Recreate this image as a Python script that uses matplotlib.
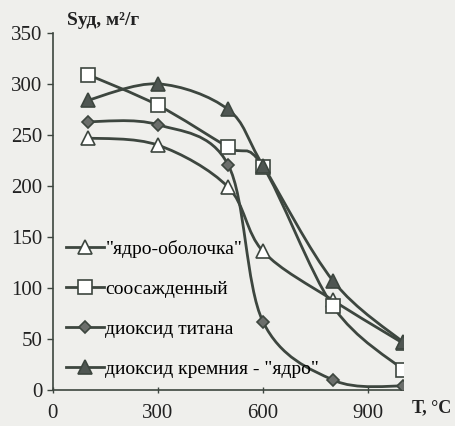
import numpy as np
import matplotlib

matplotlib.use("Agg")
import matplotlib.pyplot as plt
from matplotlib.path import Path
from matplotlib.patches import PathPatch

plt.rcParams["font.family"] = ["Liberation Serif", "DejaVu Serif"]

# ----------------------------------------------------------------------
# data
# ----------------------------------------------------------------------
temps = [100, 300, 500, 600, 800, 1000]
core_shell = [247, 240, 199, 136, 88, 46]      # "ядро-оболочка"
coprecip = [309, 279, 238, 219, 82, 20]        # соосажденный
titania = [263, 260, 221, 67, 10, 4]           # диоксид титана
silica_core = [284, 300, 275, 220, 107, 47]    # диоксид кремния - "ядро"

labels = ['"ядро-оболочка"', "соосажденный", "диоксид титана",
          'диоксид кремния - "ядро"']

y_ticks = [0, 50, 100, 150, 200, 250, 300, 350]
x_ticks = [0, 300, 600, 900]

LINE = "#3d463f"
BG = "#efefec"


def smooth_path(xs, ys):
    """Catmull-Rom style cubic Bezier path through the points."""
    p = np.column_stack([xs, ys]).astype(float)
    n = len(p)
    verts = [p[0]]
    codes = [Path.MOVETO]
    for i in range(n - 1):
        p0 = p[i - 1] if i > 0 else p[i]
        p1, p2 = p[i], p[i + 1]
        p3 = p[i + 2] if i + 2 < n else p[i + 1]
        verts += [p1 + (p2 - p0) / 6.0, p2 - (p3 - p1) / 6.0, p2]
        codes += [Path.CURVE4] * 3
    return Path(verts, codes)


fig = plt.figure(figsize=(4.56, 4.26), dpi=100, facecolor=BG)
ax = fig.add_axes([0.116, 0.084, 0.768, 0.839], facecolor=BG)

series = [
    (core_shell, dict(marker="^", mfc="white", ms=10)),
    (coprecip, dict(marker="s", mfc="white", ms=10)),
    (titania, dict(marker="D", mfc="#6b6e6b", ms=6)),
    (silica_core, dict(marker="^", mfc="#4f5652", ms=10)),
]

for (vals, style), label in zip(series, labels):
    ax.add_patch(PathPatch(smooth_path(temps, vals), fill=False,
                           ec=LINE, lw=2.0, zorder=2))
    ax.plot(temps, vals, ls="none", mec=LINE, mew=1.2, zorder=3, **style)
    ax.plot([], [], color=LINE, lw=2.0, mec=LINE, mew=1.2,
            label=label, **style)

ax.set_xlim(0, 1000)
ax.set_ylim(0, 350)
ax.set_xticks(x_ticks)
ax.set_yticks(y_ticks)
ax.tick_params(axis="both", labelsize=15, color=LINE, length=4,
               width=1, labelcolor="#222222")
ax.tick_params(axis="x", direction="inout", pad=8)
for side in ("top", "right"):
    ax.spines[side].set_visible(False)
for side in ("left", "bottom"):
    ax.spines[side].set_color(LINE)
    ax.spines[side].set_linewidth(1.2)

ax.text(0.04, 1.01, "Sуд, м²/г", transform=ax.transAxes, fontsize=14,
        fontweight="bold", va="bottom", ha="left", color="#222222")
fig.text(0.99, 0.043, "Т, °С", fontsize=13, fontweight="bold",
         ha="right", va="center", color="#222222")

ax.legend(loc="lower left", bbox_to_anchor=(0.0, 0.0), frameon=False,
          fontsize=14, handlelength=2.0, handletextpad=0.05,
          labelspacing=1.15, borderaxespad=0.25)

fig.savefig("out.png", dpi=100, facecolor=BG)
plt.close(fig)
